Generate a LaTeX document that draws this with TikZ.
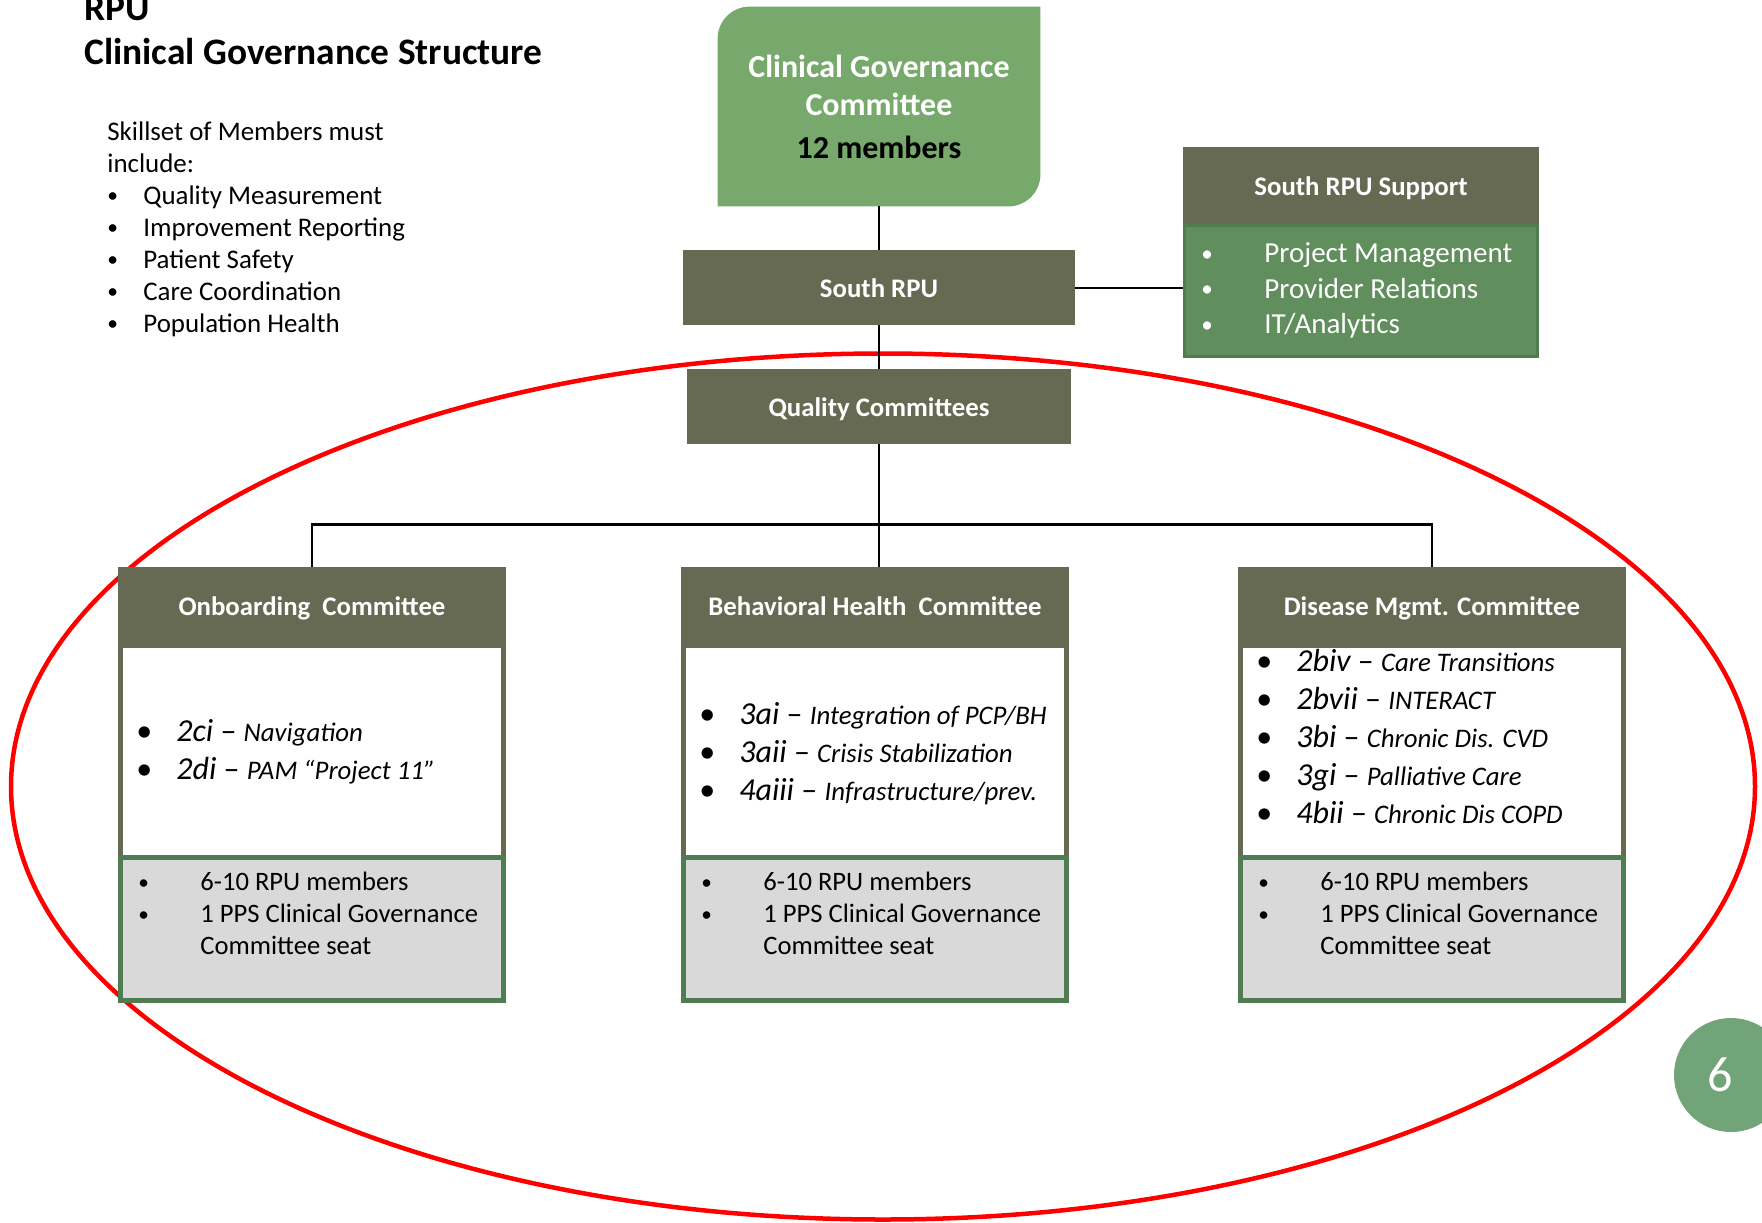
\documentclass[tikz,border=0pt]{standalone}
\usepackage{fontspec}
\setmainfont{Carlito}
\usetikzlibrary{positioning,backgrounds}

\definecolor{cgcgreen}{HTML}{76A96B}
\definecolor{olivebox}{HTML}{666A52}
\definecolor{supgreen}{HTML}{608E5C}
\definecolor{supedge}{HTML}{507D4E}
\definecolor{seatgray}{HTML}{D9D9D9}
\definecolor{seatedge}{HTML}{507C52}
\definecolor{slidegreen}{HTML}{72A47A}

% project code, dash, short description
\newcommand{\proj}[2]{{\itshape #1 \upshape–} {\fontsize{13.4}{19}\selectfont\itshape #2}}
% small list bullet
\newcommand{\bul}{\raisebox{0.05em}{\scalebox{0.8}{\textbullet}}}

\tikzset{
  cgcbox/.style={rectangle,minimum width=161pt,minimum height=99.5pt,inner sep=0pt,
    text=white,align=center,font=\bfseries\fontsize{16}{19}\selectfont},
  darkbox/.style={rectangle,fill=olivebox,text=white,inner sep=0pt,outer sep=0pt,
    text height=12pt,text depth=2pt,font=\bfseries\fontsize{13.4}{16}\selectfont},
  supbody/.style={rectangle,fill=supgreen,draw=supedge,line width=1.5pt,
    minimum width=176.5pt,minimum height=65.5pt},
  combody/.style={rectangle,fill=white,draw=olivebox,line width=2.5pt,
    minimum width=191.5pt,minimum height=106pt},
  comfoot/.style={rectangle,fill=seatgray,draw=seatedge,line width=2.5pt,
    minimum width=191.5pt,minimum height=71.5pt},
  plaintext/.style={inner sep=0pt,align=left},
  itemlist/.style={inner sep=0pt,font=\fontsize{16}{19}\selectfont},
  seatlist/.style={inner sep=0pt,font=\fontsize{13.3}{16}\selectfont},
  wire/.style={draw,line width=1.2pt}
}

\begin{document}
\begin{tikzpicture}[x=0.5pt,y=-0.5pt]
\useasboundingbox (0,0) rectangle (1762,1222);

% =========================================================
% Title and skillset
% =========================================================

\node[plaintext,anchor=base west,font=\bfseries\fontsize{18.7}{22}\selectfont] (title) at (84,20)
  {\begin{tabular}[t]{@{}l@{}}RPU\\Clinical Governance Structure\end{tabular}};

\node[plaintext,anchor=base west,font=\fontsize{13.45}{16}\selectfont] (skills) at (107,140)
  {\begin{tabular}[t]{@{}p{18pt}@{}l@{}}
    \multicolumn{2}{@{}l@{}}{Skillset of Members must}\\
    \multicolumn{2}{@{}l@{}}{include:}\\
    \bul & Quality Measurement\\
    \bul & Improvement Reporting\\
    \bul & Patient Safety\\
    \bul & Care Coordination\\
    \bul & Population Health
  \end{tabular}};

% =========================================================
% Top of the chart
% =========================================================

\node[cgcbox] (cgc) at (879,106.5)
  {Clinical Governance\\Committee\\[2.5pt]{\color{black}12 members}};

\node[darkbox,minimum width=196pt,minimum height=37.5pt,below=22pt of cgc] (south) {South RPU};
\node[darkbox,minimum width=192pt,minimum height=37.5pt,below=22pt of south] (quality) {Quality Committees};

\node[supbody,right=54pt of south,yshift=-1.5pt] (supbody) {};
\node[darkbox,minimum width=178pt,minimum height=38.5pt,above=0pt of supbody] (suphead) {South RPU Support};
\node[plaintext,right=9pt of supbody.west,text=white,font=\fontsize{14.5}{17.75}\selectfont] (suplist)
  {\begin{tabular}{@{}p{31.5pt}@{}l@{}}
    \bul & Project Management\\
    \bul & Provider Relations\\
    \bul & IT/Analytics
  \end{tabular}};

\draw[wire] (cgc.south) -- (south.north);
\draw[wire] (south.east) -- (south.east -| supbody.west);
\draw[wire] (south.south) -- (quality.north);

% =========================================================
% Committees
% =========================================================

\node[darkbox,minimum width=194pt,minimum height=38pt,below=61.5pt of quality,xshift=-2pt] (bhhead) {Behavioral Health~~Committee};
\node[combody,below=0pt of bhhead] (bhbody) {};
\node[comfoot,below=-2.5pt of bhbody] (bhfoot) {};

\node[darkbox,minimum width=194pt,minimum height=38pt,left=87.5pt of bhhead] (onbhead) {Onboarding~~Committee};
\node[combody,below=0pt of onbhead] (onbbody) {};
\node[comfoot,below=-2.5pt of onbbody] (onbfoot) {};

\node[darkbox,minimum width=194pt,minimum height=38pt,right=84.5pt of bhhead] (dishead) {Disease Mgmt. Committee};
\node[combody,below=0pt of dishead] (disbody) {};
\node[comfoot,below=-2.5pt of disbody] (disfoot) {};

\coordinate[below=40pt of quality] (split);
\draw[wire] (quality.south) -- (split);
\draw[wire] (onbhead.north) |- (split) -| (dishead.north);
\draw[wire] (split) -- (split |- bhhead.north);

% project lists
\node[itemlist,right=9pt of onbbody.west,yshift=-0.5pt] (onblist)
  {\begin{tabular}{@{}p{20pt}@{}l@{}}
    \textbullet & \proj{2ci}{Navigation}\\
    \textbullet & \proj{2di}{PAM “Project 11”}
  \end{tabular}};
\node[itemlist,right=9pt of bhbody.west,yshift=-1.5pt] (bhlist)
  {\begin{tabular}{@{}p{20pt}@{}l@{}}
    \textbullet & \proj{3ai}{Integration of PCP/BH}\\
    \textbullet & \proj{3aii}{Crisis Stabilization}\\
    \textbullet & \proj{4aiii}{Infrastructure/prev.}
  \end{tabular}};
\node[itemlist,right=9pt of disbody.west,yshift=6pt] (dislist)
  {\begin{tabular}{@{}p{20pt}@{}l@{}}
    \textbullet & \proj{2biv}{Care Transitions}\\
    \textbullet & \proj{2bvii}{INTERACT}\\
    \textbullet & \proj{3bi}{Chronic Dis. CVD}\\
    \textbullet & \proj{3gi}{Palliative Care}\\
    \textbullet & \proj{4bii}{Chronic Dis COPD}
  \end{tabular}};

% seat lists
\node[seatlist,below right=6.3pt and 10pt of onbfoot.north west] (onbseat)
  {\begin{tabular}{@{}p{31pt}@{}l@{}}
    \bul & 6-10 RPU members\\
    \bul & 1 PPS Clinical Governance\\
    & Committee seat
  \end{tabular}};
\node[seatlist,below right=6.3pt and 10pt of bhfoot.north west] (bhseat)
  {\begin{tabular}{@{}p{31pt}@{}l@{}}
    \bul & 6-10 RPU members\\
    \bul & 1 PPS Clinical Governance\\
    & Committee seat
  \end{tabular}};
\node[seatlist,below right=6.3pt and 10pt of disfoot.north west] (disseat)
  {\begin{tabular}{@{}p{31pt}@{}l@{}}
    \bul & 6-10 RPU members\\
    \bul & 1 PPS Clinical Governance\\
    & Committee seat
  \end{tabular}};

% slide number
\node[circle,fill=slidegreen,minimum size=57pt,inner sep=0pt] (slide) at (1731,1075) {};
\node[text=white,inner sep=0pt,font=\fontsize{25}{30}\selectfont] (slidenum) at ([xshift=-5.5pt]slide.center) {6};

% =========================================================
% Behind everything: committee card and red ring
% =========================================================

\begin{scope}[on background layer]
  \fill[cgcgreen] (cgc.south west) -- ([yshift=-16pt]cgc.north west)
    arc[start angle=180,end angle=90,radius=16pt] -- (cgc.north east)
    -- ([yshift=16pt]cgc.south east) arc[start angle=0,end angle=-90,radius=16pt] -- cycle;
  \draw[red,line width=2.25pt] (883,786.5) ellipse [x radius=436pt,y radius=216.5pt];
\end{scope}

\end{tikzpicture}
\end{document}
